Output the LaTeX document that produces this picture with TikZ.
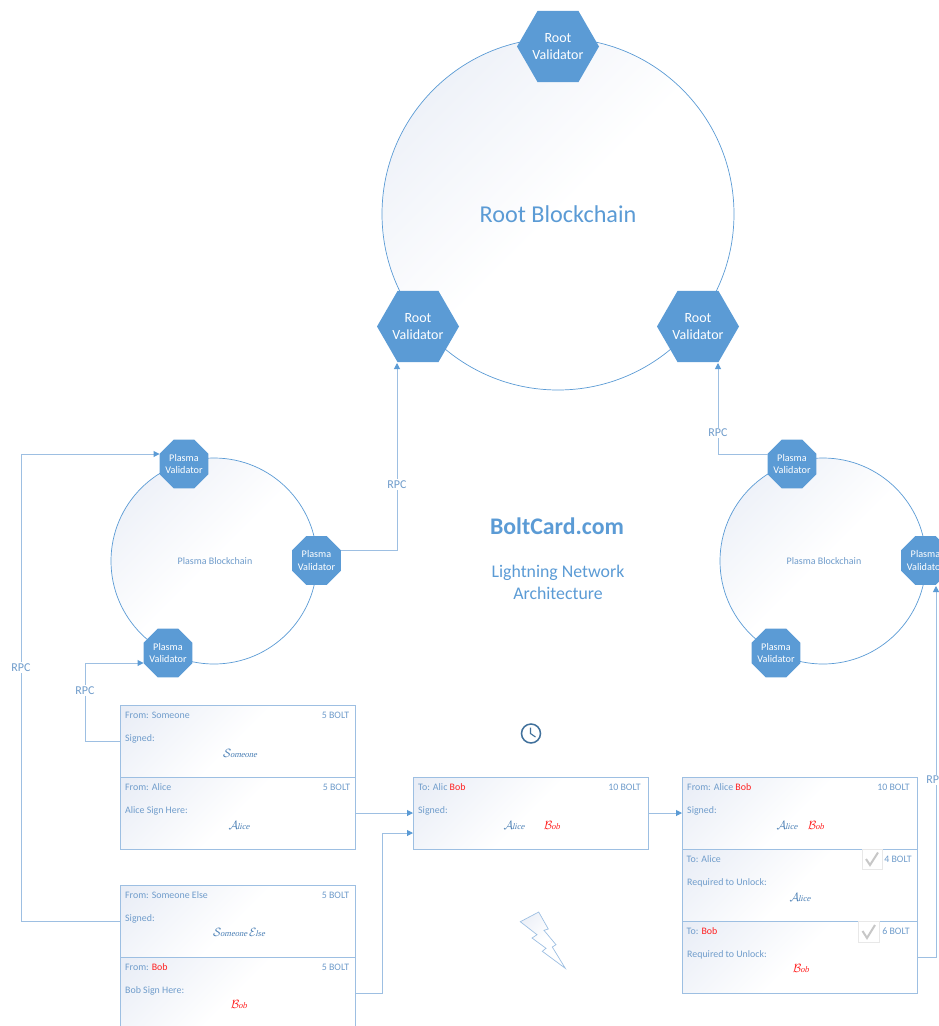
\documentclass[tikz,border=0pt]{standalone}
\usepackage{fontspec}
\setmainfont{Carlito}
\newfontfamily\sigfont[FakeSlant=0.25]{Liberation Serif}
\usetikzlibrary{shapes.geometric,arrows.meta,calc}
\definecolor{vblue}{HTML}{5B9BD5}
\definecolor{tblue}{HTML}{6F9CCB}
\definecolor{bline}{HTML}{9DBFE2}
\definecolor{pale}{HTML}{E6EBF5}
\definecolor{sigblue}{HTML}{4A7FB5}
\definecolor{clockblue}{HTML}{41719C}
\definecolor{sigred}{HTML}{FF2020}
\pgfdeclareverticalshading{softcorner}{100bp}{color(0bp)=(white); color(50bp)=(white); color(88bp)=(pale); color(100bp)=(pale)}
\tikzset{
  chain/.style={circle,draw=vblue,line width=.7pt,inner sep=0,outer sep=0,shading=softcorner,shading angle=45},
  rootv/.style={regular polygon,regular polygon sides=6,minimum size=82pt,inner sep=0,outer sep=0,fill=vblue},
  plasmav/.style={regular polygon,regular polygon sides=8,minimum size=53pt,inner sep=0,outer sep=0,fill=vblue},
  roott/.style={text=white,font=\fontsize{14}{17}\selectfont,align=center,inner sep=0},
  plasmat/.style={text=white,font=\fontsize{10.2}{12.2}\selectfont,align=center,inner sep=0},
  card/.style={rectangle,draw=bline,line width=1pt,inner sep=0,outer sep=0,anchor=north west,minimum width=235pt,minimum height=72pt,shading=softcorner,shading angle=45},
  conn/.style={draw=bline,line width=1pt},
  arr/.style={conn,-{Triangle[length=6pt,width=6pt,fill=vblue,color=vblue]}},
  ttext/.style={text=tblue,font=\fontsize{9.9}{11}\selectfont,inner sep=0,anchor=west,yshift=-.7pt},
  amt/.style={text=tblue,font=\fontsize{9.9}{11}\selectfont,inner sep=0,anchor=east,yshift=-.7pt},
  sig/.style={text=sigblue,font=\sigfont\fontsize{8.5}{11}\selectfont,inner sep=0},
  sigr/.style={sig,text=sigred},
  rpc/.style={text=tblue,fill=white,font=\fontsize{12}{13}\selectfont,inner sep=1.5pt},
  chk/.style={draw=black!9,line width=1pt,fill=white},
  tick/.style={draw=black!22,line width=2pt}
}
\newcommand{\red}[1]{\textcolor{sigred}{#1}}
\newcommand{\capsig}[1]{{\fontsize{13}{13}\selectfont$\mathcal{#1}$}\kern-1.2pt}
\newcommand{\sA}{\capsig{A}lice}
\newcommand{\sB}{\capsig{B}ob}
\newcommand{\sS}{\capsig{S}omeone}
\newcommand{\sE}{\capsig{E}lse}
\begin{document}
\begin{tikzpicture}[x=1pt,y=-1pt]
\useasboundingbox (0,0) rectangle (939,1026);
\clip (0,0) rectangle (939,1026);
% blockchains
\node[chain,minimum size=352pt] (rootc) at (558,214) {};
\node[chain,minimum size=206pt] (plc) at (214,561) {};
\node[chain,minimum size=206pt] (prc) at (823,561) {};
\node[text=vblue,font=\fontsize{24.2}{26}\selectfont] (rootl) at (558,214) {Root Blockchain};
\node[text=tblue,font=\fontsize{10}{11}\selectfont] (pll) at (215,561) {Plasma Blockchain};
\node[text=tblue,font=\fontsize{10}{11}\selectfont] (prl) at (824,561) {Plasma Blockchain};
% validators
\node[rootv,label={[roott]center:{Root\\Validator}}] (r1) at (558,46.5) {};
\node[rootv,label={[roott]center:{Root\\Validator}}] (r2) at (418,326.5) {};
\node[rootv,label={[roott]center:{Root\\Validator}}] (r3) at (698,326.5) {};
\node[plasmav,label={[plasmat]center:{Plasma\\Validator}}] (p1) at (184,464) {};
\node[plasmav,label={[plasmat]center:{Plasma\\Validator}}] (p2) at (316.5,560.5) {};
\node[plasmav,label={[plasmat]center:{Plasma\\Validator}}] (p3) at (168,653) {};
\node[plasmav,label={[plasmat]center:{Plasma\\Validator}}] (p4) at (792,464) {};
\node[plasmav,label={[plasmat]center:{Plasma\\Validator}}] (p5) at (925.5,560.5) {};
\node[plasmav,label={[plasmat]center:{Plasma\\Validator}}] (p6) at (776,653) {};
% centre text
\node[text=vblue,font=\bfseries\fontsize{23.8}{26}\selectfont] (brand) at (557,526) {BoltCard.com};
\node[text=vblue,font=\fontsize{17.8}{21.5}\selectfont,align=center] (sub) at (558,582.5) {Lightning Network\\Architecture};
% cards
\node[card] (a1) at (120,705) {};
\node[card] (a2) at (120,777) {};
\node[card] (b1) at (120,885) {};
\node[card] (b2) at (120,957) {};
\node[card] (m) at (413,777) {};
\node[card] (c1) at (682,777) {};
\node[card] (c2) at (682,849) {};
\node[card] (c3) at (682,921) {};
% card text
\node[ttext] (a1t) at (125,714.5) {From: Someone};
\node[amt] (a1a) at (349.5,714.5) {5 BOLT};
\node[ttext] (a1s) at (125,738.5) {Signed:};
\node[sig] (a1g) at (240,753) {\sS};
\node[ttext] (a2t) at (125,786.5) {From: Alice};
\node[amt] (a2a) at (350.5,786.5) {5 BOLT};
\node[ttext] (a2s) at (125,810.5) {Alice Sign Here:};
\node[sig] (a2g) at (239,825) {\sA};
\node[ttext] (b1t) at (125,894.5) {From: Someone Else};
\node[amt] (b1a) at (349.5,894.5) {5 BOLT};
\node[ttext] (b1s) at (125,918.5) {Signed:};
\node[sig] (b1g) at (239,932) {\sS{} \sE};
\node[ttext] (b2t) at (125,966.5) {From: \red{Bob}};
\node[amt] (b2a) at (349.5,966.5) {5 BOLT};
\node[ttext] (b2s) at (125,990.5) {Bob Sign Here:};
\node[sigr] (b2g) at (239,1004) {\sB};
\node[ttext] (mt) at (418,786.5) {To: Alic \red{Bob}};
\node[amt] (ma) at (641,786.5) {10 BOLT};
\node[ttext] (ms) at (418,810.5) {Signed:};
\node[sig] (mg1) at (514,825) {\sA};
\node[sigr] (mg2) at (552,825) {\sB};
\node[ttext] (c1t) at (687,786.5) {From: Alice \red{Bob}};
\node[amt] (c1a) at (910,786.5) {10 BOLT};
\node[ttext] (c1s) at (687,810.5) {Signed:};
\node[sig] (c1g1) at (787,825) {\sA};
\node[sigr] (c1g2) at (816,825) {\sB};
\node[ttext] (c2t) at (686.5,858.5) {To: Alice};
\node[amt] (c2a) at (912,858.5) {4 BOLT};
\node[ttext] (c2s) at (687,882.5) {Required to Unlock:};
\node[sig] (c2g) at (800,897) {\sA};
\node[ttext] (c3t) at (686.5,930.5) {To: \red{Bob}};
\node[amt] (c3a) at (910,930.5) {6 BOLT};
\node[ttext] (c3s) at (687,954.5) {Required to Unlock:};
\node[sigr] (c3g) at (801,968) {\sB};
% check boxes
\draw[chk] (862,849.5) rectangle (882,869.5);
\draw[tick] (866,859) -- (870,865) -- (878,852.5);
\draw[chk] (858.5,921.5) rectangle (879,942);
\draw[tick] (862.5,931) -- (867,938) -- (875,925);
% clock
\node[circle,draw=clockblue,line width=1.5pt,minimum size=19pt,inner sep=0,fill=white] (clock) at (531,733.5) {};
\draw[clockblue,line width=1.1pt] (530.5,727.5) -- (530.5,733.5) -- (535.5,737);
% lightning bolt
\draw[draw=bline,line width=.7pt,shading=softcorner,shading angle=45]
  (520.3,921.7) -- (538.7,912) -- (548.3,929) -- (544,930.3) -- (556,944.7) -- (552.3,947) -- (565.3,968.3)
  -- (542.3,951.3) -- (546,948.3) -- (532,938) -- (537,934.7) -- cycle;
% connection points
\coordinate (p1in) at ($(p1.west)+(0,-10)$);
\coordinate (p3in) at ($(p3.west)+(0,10)$);
\coordinate (p2out) at ($(p2.east)+(0,-10)$);
\coordinate (p4out) at ($(p4.west)+(0,-10)$);
\coordinate (r2f) at (397,363);
\coordinate (r3f) at (718,363);
\coordinate (mlow) at ($(m.south west)+(0,-16)$);
\coordinate (c3out) at (c3.east);
\coordinate (p5in) at (936,586);
% connectors
\draw[arr] (a1.west) -- (85,741) -- (85,663) -- (p3in);
\draw[arr] (b1.west) -- (21,921) -- (21,454) -- (p1in);
\draw[arr] (p2out) -| (r2f);
\draw[arr] (p4out) -| (r3f);
\draw[arr] (a2.east) -- (m.west);
\draw[arr] (b2.east) -- (382,993) |- (mlow);
\draw[arr] (m.east) -- (c1.west);
\draw[arr] (c3out) -| (p5in);
% RPC labels
\node[rpc] (l1) at (85,690.5) {RPC};
\node[rpc] (l2) at (21,667.5) {RPC};
\node[rpc] (l3) at (397,484.5) {RPC};
\node[rpc] (l4) at (718,433) {RPC};
\node[rpc] (l5) at (936,780) {RPC};
\end{tikzpicture}
\end{document}
